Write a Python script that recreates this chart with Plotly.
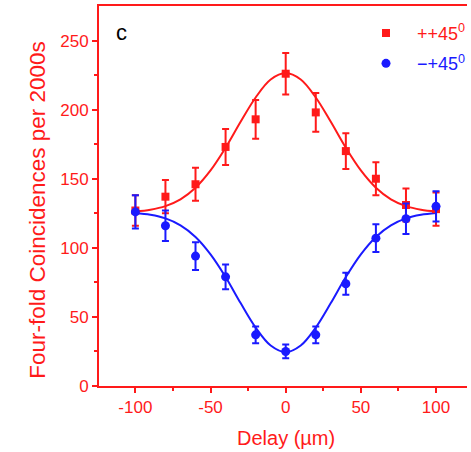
import plotly.graph_objects as go

# Data points
delay = [-100, -80, -60, -40, -20, 0, 20, 40, 60, 80, 100]
pp45 = [127, 137, 146, 173, 193, 226, 198, 170, 150, 131, 128]
pp45_err = [11, 12, 12, 13, 14, 15, 14, 13, 12, 12, 12]
mp45 = [126, 116, 94, 79, 37, 25, 37, 74, 107, 121, 130]
mp45_err = [12, 11, 10, 9, 6, 5, 6, 8, 10, 11, 11]

# Fit curves
fit_x = [-100, -90, -80, -70, -60, -50, -40, -30, -20, -10, 0,
         10, 20, 30, 40, 50, 60, 70, 80, 90, 100]
fit_pp = [126.3, 127.6, 130.2, 135.1, 143.5, 156.0, 172.4, 191.2, 208.8, 221.8, 226.5,
          221.8, 208.8, 191.2, 172.4, 156.0, 143.5, 135.1, 130.2, 127.6, 126.3]
fit_mp = [125.2, 123.9, 121.3, 116.3, 107.9, 95.3, 78.9, 60.0, 42.3, 29.3, 24.5,
          29.3, 42.3, 60.0, 78.9, 95.3, 107.9, 116.3, 121.3, 123.9, 125.2]

RED = "#ff1a1a"
BLUE = "#1a1aff"
FONT = "Liberation Sans, Arial, sans-serif"

fig = go.Figure()
fig.add_trace(go.Scatter(x=fit_x, y=fit_pp, mode="lines", line=dict(color=RED, width=2, shape="spline"),
                         showlegend=False, hoverinfo="skip"))
fig.add_trace(go.Scatter(x=fit_x, y=fit_mp, mode="lines", line=dict(color=BLUE, width=2, shape="spline"),
                         showlegend=False, hoverinfo="skip"))
fig.add_trace(go.Scatter(x=delay, y=pp45, mode="markers", legendgroup="a",
                         marker=dict(symbol="square", size=8, color=RED),
                         error_y=dict(type="data", array=pp45_err, color=RED, thickness=2, width=3.5),
                         name=f"<span style='color:{RED}'>++45<sup>0</sup></span>"))
fig.add_trace(go.Scatter(x=delay, y=mp45, mode="markers", legendgroup="b",
                         marker=dict(symbol="circle", size=9, color=BLUE),
                         error_y=dict(type="data", array=mp45_err, color=BLUE, thickness=2, width=3.5),
                         name=f"<span style='color:{BLUE}'>\u2212+45<sup>0</sup></span>"))

fig.add_annotation(x=-114.2, y=255.5, xref="x", yref="y", text="c", showarrow=False,
                   font=dict(family=FONT, size=22, color="black"), xanchor="left", yanchor="middle")

# axis titles as annotations
fig.add_annotation(x=0.508, y=-0.137, xref="paper", yref="paper", text="Delay (\u00b5m)",
                   showarrow=False, xanchor="center", yanchor="middle",
                   font=dict(family=FONT, size=20, color=RED))
fig.add_annotation(x=-0.169, y=0.463, xref="paper", yref="paper", text="Four-fold Coincidences per 2000s",
                   showarrow=False, xanchor="center", yanchor="middle", textangle=-90,
                   font=dict(family=FONT, size=22.5, color=RED))

fig.update_layout(
    width=471, height=452,
    margin=dict(l=99, r=0, t=6, b=66),
    paper_bgcolor="white", plot_bgcolor="white",
    font=dict(family=FONT, color=RED),
    legend=dict(x=0.696, y=0.977, xanchor="left", yanchor="top", bgcolor="rgba(0,0,0,0)",
                font=dict(size=18, family=FONT), itemwidth=52, tracegroupgap=4),
    xaxis=dict(range=[-124.2, 120.6], showgrid=False, zeroline=False, automargin=False,
               showline=True, linecolor=RED, linewidth=2, mirror=True,
               ticks="outside", ticklen=5, tickwidth=1.5, tickcolor=RED,
               tickmode="array", tickvals=[-100, -50, 0, 50, 100],
               ticktext=["-100", "-50", "0", "50", "100"],
               tickfont=dict(size=17, color=RED, family=FONT),
               minor=dict(ticks="outside", ticklen=3, tickcolor=RED, tickwidth=1.5,
                          tickmode="array", tickvals=[-125, -75, -25, 25, 75, 125])),
    yaxis=dict(range=[0, 275], showgrid=False, zeroline=False, automargin=False,
               showline=True, linecolor=RED, linewidth=2, mirror=False,
               ticks="outside", ticklen=5, tickwidth=1.5, tickcolor=RED,
               tickmode="array", tickvals=[0, 50, 100, 150, 200, 250],
               tickfont=dict(size=17, color=RED, family=FONT),
               minor=dict(ticks="outside", ticklen=3, tickcolor=RED, tickwidth=1.5,
                          tickmode="array", tickvals=[25, 75, 125, 175, 225])),
)

fig.write_html("out.html", config={"displayModeBar": False},
               post_script="document.body.style.margin='0';document.body.style.overflow='hidden';")
